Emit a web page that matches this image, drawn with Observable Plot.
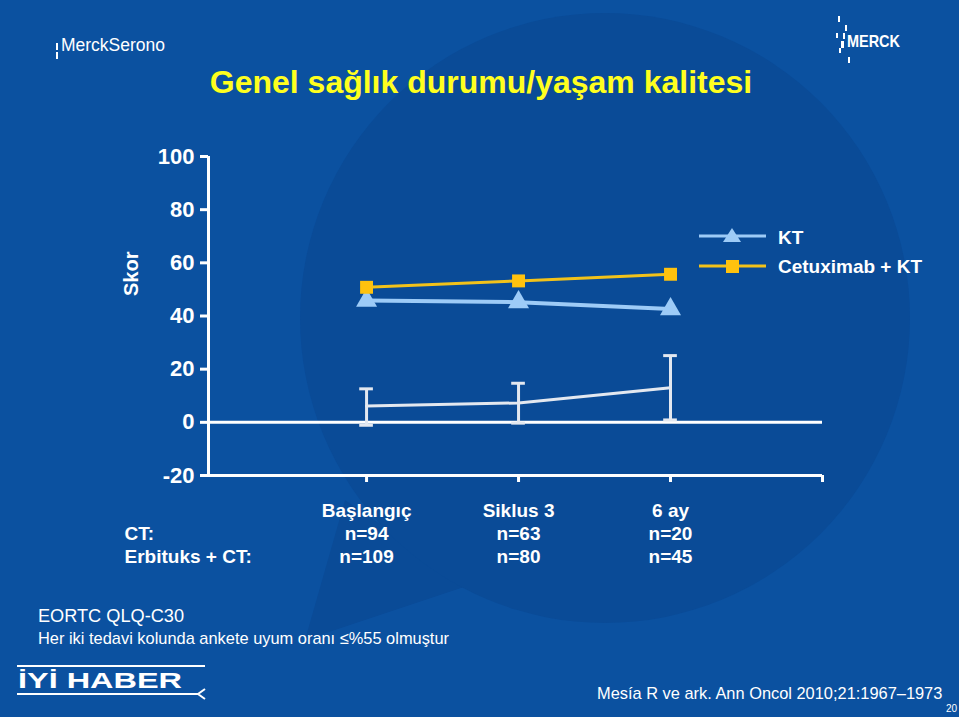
<!DOCTYPE html>
<html>
<head>
<meta charset="utf-8">
<script src="https://cdn.jsdelivr.net/npm/d3@7"></script>
<script src="https://cdn.jsdelivr.net/npm/@observablehq/plot@0.6"></script>
<style>
  html, body { margin: 0; padding: 0; background: #0b52a0; }
  #wrap { position: relative; width: 959px; height: 717px; overflow: hidden; }
  #bg { position: absolute; left: 0; top: 0; }
  #chart { position: absolute; left: 0; top: 0; width: 959px; height: 717px; }
  #chart svg { position: absolute; left: 0; top: 0; }
  #err { position: absolute; left: 10px; top: 120px; color: #f66; font: 12px monospace; white-space: pre-wrap; }
</style>
</head>
<body>
<div id="wrap">
<svg id="bg" width="959" height="717" xmlns="http://www.w3.org/2000/svg" font-family="'Liberation Sans', Arial, sans-serif">
  <rect width="959" height="717" fill="#0b51a0"/>
  <!-- speech bubble shape -->
  <path d="M345,500 L305,640 L470,585 Z" fill="#0a4b97"/>
  <circle cx="605" cy="318" r="305" fill="#0a4b97"/>

  <!-- Merck Serono logo -->
  <rect x="56" y="43" width="2" height="7" fill="#fff"/>
  <rect x="56" y="52" width="2" height="7" fill="#fff"/>
  <text x="61" y="51" font-size="18" fill="#fff" textLength="104" lengthAdjust="spacingAndGlyphs">MerckSerono</text>

  <!-- MERCK logo -->
  <rect x="838" y="16" width="2" height="6" fill="#fff"/>
  <rect x="845" y="25" width="2" height="6" fill="#fff"/>
  <rect x="836" y="33" width="2" height="5" fill="#fff"/>
  <rect x="843" y="33" width="2" height="6" fill="#fff"/>
  <rect x="841" y="41" width="3" height="7" fill="#fff"/>
  <rect x="839" y="48" width="2" height="5" fill="#fff"/>
  <rect x="848" y="57" width="2" height="6" fill="#fff"/>
  <text x="847" y="47" font-size="17" font-weight="bold" fill="#fff" textLength="53" lengthAdjust="spacingAndGlyphs">MERCK</text>

  <!-- Title -->
  <text x="481" y="93" text-anchor="middle" font-size="32" font-weight="bold" fill="#ffff1e">Genel sağlık durumu/yaşam kalitesi</text>

  <!-- Legend -->
  <line x1="699" y1="236" x2="766" y2="236" stroke="#9dcbf7" stroke-width="3"/>
  <path d="M732,228 L741,242 L723,242 Z" fill="#9dcbf7"/>
  <text x="778" y="244" font-size="19" font-weight="bold" fill="#fff">KT</text>
  <line x1="699" y1="266" x2="766" y2="266" stroke="#f2c21a" stroke-width="3"/>
  <rect x="726" y="260" width="13" height="13" fill="#ffc20e"/>
  <text x="778" y="273" font-size="19" font-weight="bold" fill="#fff" textLength="144" lengthAdjust="spacingAndGlyphs">Cetuximab + KT</text>

  <!-- Footnotes -->
  <text x="38" y="622" font-size="18" fill="#fff" textLength="146" lengthAdjust="spacingAndGlyphs">EORTC QLQ-C30</text>
  <text x="38" y="644" font-size="17" fill="#fff" textLength="411" lengthAdjust="spacingAndGlyphs">Her iki tedavi kolunda ankete uyum oranı ≤%55 olmuştur</text>

  <!-- İYİ HABER logo -->
  <line x1="17" y1="666" x2="205" y2="666" stroke="#fff" stroke-width="2"/>
  <text x="18" y="688" font-size="22" font-weight="bold" fill="#fff" textLength="164" lengthAdjust="spacingAndGlyphs">İYİ HABER</text>
  <line x1="17" y1="694" x2="199" y2="694" stroke="#fff" stroke-width="2"/>
  <path d="M205,689 L198,694 L205,699" stroke="#fff" stroke-width="2" fill="none"/>

  <!-- Citation -->
  <text x="597" y="699" font-size="16.4" fill="#fff">Mesía R ve ark. Ann Oncol 2010;21:1967–1973</text>
  <text x="946" y="712" font-size="10" fill="#fff">20</text>
</svg>
<div id="chart"></div>
<div id="err"></div>
</div>
<script>
// ---- data ----
const timepoints = ["Başlangıç", "Siklus 3", "6 ay"];
const timeIndex = [1, 2, 3];
const ctN = ["n=94", "n=63", "n=20"];
const erbN = ["n=109", "n=80", "n=45"];
const rowLabels = ["CT:", "Erbituks + CT:"];
const ktScores = [45.8, 45.2, 42.6];
const cetuxScores = [50.8, 53.2, 55.7];
const diffMean = [6.1, 7.3, 13.0];
const diffLow = [-1.1, -0.3, 0.9];
const diffHigh = [12.6, 14.7, 25.1];
const yTicks = [-20, 0, 20, 40, 60, 80, 100];
const xTicks = [1, 2, 3, 4];
const xDomain = [-0.04, 4];
const yDomain = [-20, 100];

try {
  // ---- tables built from arrays ----
  const kt = timeIndex.map((x, i) => ({x, y: ktScores[i]}));
  const cetux = timeIndex.map((x, i) => ({x, y: cetuxScores[i]}));
  const diff = timeIndex.map((x, i) => ({x, y: diffMean[i], lo: diffLow[i], hi: diffHigh[i]}));
  const caps = diff.flatMap(d => [{x: d.x, v: d.lo}, {x: d.x, v: d.hi}]);
  const table = timeIndex.map((x, i) => ({x, head: timepoints[i], ct: ctN[i], erb: erbN[i]}));
  const capHalf = 0.045;
  const frameLeft = [{x: xDomain[0], y1: yDomain[0], y2: yDomain[1]}];

  const font = "'Liberation Sans', Arial, sans-serif";
  const txt = {fill: "white", fontWeight: "bold", fontSize: 19};

  const chart = Plot.plot({
    width: 959,
    height: 717,
    marginLeft: 208,
    marginRight: 137,
    marginTop: 156,
    marginBottom: 242,
    x: {domain: xDomain, ticks: xTicks, tickSize: 7, tickFormat: () => "", label: null},
    y: {domain: yDomain, ticks: yTicks, tickSize: 8, tickPadding: 6, tickFormat: d => String(d), label: null},
    style: {background: "transparent", color: "white", fontFamily: font, fontSize: "22px", fontWeight: "bold", overflow: "visible"},
    marks: [
      Plot.ruleY([yDomain[0]], {stroke: "white", strokeWidth: 3}),
      Plot.ruleX(frameLeft, {x: "x", y1: "y1", y2: "y2", stroke: "white", strokeWidth: 3}),
      Plot.ruleY([0], {stroke: "white", strokeWidth: 3}),
      // difference line with error bars
      Plot.ruleX(diff, {x: "x", y1: "lo", y2: "hi", stroke: "#e3e8f0", strokeWidth: 3}),
      Plot.ruleY(caps, {y: "v", x1: d => d.x - capHalf, x2: d => d.x + capHalf, stroke: "#e3e8f0", strokeWidth: 3}),
      Plot.line(diff, {x: "x", y: "y", stroke: "#e3e8f0", strokeWidth: 3}),
      // KT
      Plot.line(kt, {x: "x", y: "y", stroke: "#9dcbf7", strokeWidth: 4}),
      Plot.dot(kt, {x: "x", y: "y", symbol: "triangle", r: 7.8, fill: "#9dcbf7"}),
      // Cetuximab + KT
      Plot.line(cetux, {x: "x", y: "y", stroke: "#f2c21a", strokeWidth: 3}),
      Plot.dot(cetux, {x: "x", y: "y", symbol: "square", r: 7.3, fill: "#ffc20e"}),
      // y label
      Plot.text(["Skor"], {frameAnchor: "left", dx: -77, dy: -20, rotate: -90, fill: "white", fontWeight: "bold", fontSize: 20}),
      // bottom table
      Plot.text(table, {x: "x", text: "head", frameAnchor: "bottom", dy: 41, ...txt}),
      Plot.text(table, {x: "x", text: "ct", frameAnchor: "bottom", dy: 64, ...txt}),
      Plot.text(table, {x: "x", text: "erb", frameAnchor: "bottom", dy: 87, ...txt}),
      Plot.text([rowLabels[0]], {frameAnchor: "bottom-left", dx: -84, dy: 64, textAnchor: "start", ...txt}),
      Plot.text([rowLabels[1]], {frameAnchor: "bottom-left", dx: -84, dy: 87, textAnchor: "start", ...txt})
    ]
  });
  // thicker white axis ticks
  d3.select(chart).selectAll("g[aria-label*='axis']").each(function () {
    d3.select(this).attr("stroke-width", 3);
    d3.select(this).selectAll("line, path").attr("stroke-width", 3).attr("stroke", "white");
    d3.select(this).selectAll("text").attr("fill", "white");
  });
  document.getElementById("chart").appendChild(chart);
} catch (e) {
  document.getElementById("err").textContent = String(e && e.stack || e);
}
</script>
</body>
</html>
